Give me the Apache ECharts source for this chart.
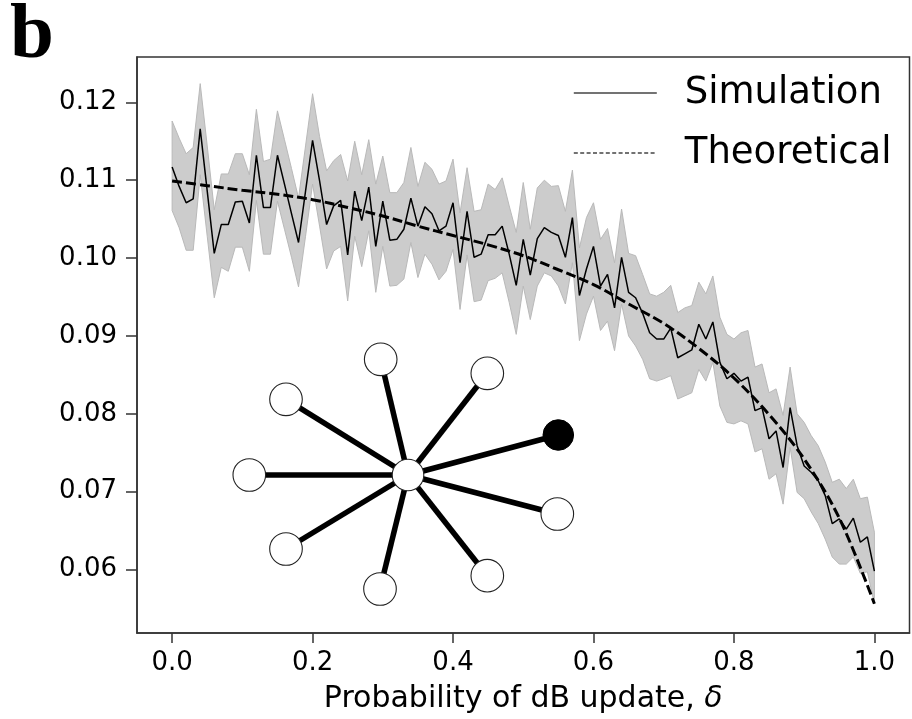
<!DOCTYPE html>
<html>
<head>
<meta charset="utf-8">
<script src="https://cdn.jsdelivr.net/npm/echarts@6/dist/echarts.min.js"></script>
<style>
html,body{margin:0;padding:0;background:#fff;}
#chart{width:912px;height:719px;}
</style>
</head>
<body>
<div id="chart"></div>
<script>
// ---- data ----
// x grid: probability of dB update, delta = 0.00 .. 1.00 step 0.01
const delta = Array.from({length: 101}, (_, i) => +(i / 100).toFixed(2));

const simMean = [
0.1117, 0.1092, 0.1071, 0.1076, 0.1166, 0.1086, 0.1006, 0.1043, 0.1043, 0.1072,
0.1073, 0.1045, 0.1132, 0.1065, 0.1065, 0.1132, 0.1095, 0.1057, 0.1020, 0.1086,
0.1151, 0.1099, 0.1043, 0.1067, 0.1074, 0.1004, 0.1086, 0.1048, 0.1091, 0.1015,
0.1073, 0.1023, 0.1024, 0.1037, 0.1077, 0.1041, 0.1066, 0.1057, 0.1035, 0.1041,
0.1071, 0.0994, 0.1060, 0.1001, 0.1005, 0.1030, 0.1030, 0.1041, 0.1005, 0.0965,
0.1024, 0.0978, 0.1025, 0.1039, 0.1033, 0.1029, 0.1001, 0.1052, 0.0952, 0.0986,
0.1015, 0.0964, 0.0979, 0.0936, 0.1001, 0.0956, 0.0949, 0.0929, 0.0904, 0.0896,
0.0896, 0.0910, 0.0872, 0.0877, 0.0882, 0.0915, 0.0896, 0.0918, 0.0866, 0.0845,
0.0852, 0.0842, 0.0847, 0.0804, 0.0808, 0.0768, 0.0778, 0.0731, 0.0808, 0.0759,
0.0733, 0.0725, 0.0714, 0.0695, 0.0659, 0.0665, 0.0652, 0.0666, 0.0635, 0.0642,
0.0598
];

const simUpper = [
0.1176, 0.1154, 0.1134, 0.1142, 0.1224, 0.1144, 0.1062, 0.1108, 0.1108, 0.1134,
0.1134, 0.1107, 0.1191, 0.1124, 0.1127, 0.1189, 0.1152, 0.1115, 0.1077, 0.1144,
0.1211, 0.1156, 0.1112, 0.1125, 0.1133, 0.1099, 0.1150, 0.1107, 0.1152, 0.1095,
0.1131, 0.1084, 0.1084, 0.1097, 0.1142, 0.1092, 0.1123, 0.1114, 0.1095, 0.1099,
0.1127, 0.1058, 0.1116, 0.1060, 0.1062, 0.1095, 0.1088, 0.1103, 0.1067, 0.1033,
0.1097, 0.1037, 0.1090, 0.1100, 0.1092, 0.1093, 0.1060, 0.1113, 0.1013, 0.1052,
0.1071, 0.1024, 0.1038, 0.0994, 0.1063, 0.1006, 0.1003, 0.0979, 0.0954, 0.0951,
0.0956, 0.0965, 0.0930, 0.0936, 0.0939, 0.0969, 0.0954, 0.0977, 0.0924, 0.0902,
0.0896, 0.0904, 0.0907, 0.0860, 0.0864, 0.0827, 0.0832, 0.0798, 0.0860, 0.0800,
0.0789, 0.0772, 0.0759, 0.0738, 0.0712, 0.0716, 0.0704, 0.0716, 0.0691, 0.0693,
0.0648
];

const simLower = [
0.1061, 0.1039, 0.1010, 0.1010, 0.1107, 0.1028, 0.0949, 0.0988, 0.0983, 0.1014,
0.1014, 0.0983, 0.1074, 0.1005, 0.1005, 0.1073, 0.1037, 0.1001, 0.0963, 0.1028,
0.1095, 0.1041, 0.0986, 0.1009, 0.1015, 0.0945, 0.1028, 0.0989, 0.1035, 0.0956,
0.1015, 0.0964, 0.0965, 0.0973, 0.1020, 0.0975, 0.1005, 0.0992, 0.0972, 0.0983,
0.1011, 0.0934, 0.1004, 0.0944, 0.0946, 0.0971, 0.0974, 0.0981, 0.0943, 0.0902,
0.0964, 0.0921, 0.0964, 0.0981, 0.0977, 0.0964, 0.0941, 0.0994, 0.0894, 0.0928,
0.0951, 0.0907, 0.0919, 0.0881, 0.0941, 0.0900, 0.0887, 0.0870, 0.0845, 0.0842,
0.0845, 0.0849, 0.0819, 0.0823, 0.0827, 0.0857, 0.0842, 0.0866, 0.0810, 0.0789,
0.0787, 0.0791, 0.0787, 0.0751, 0.0755, 0.0716, 0.0723, 0.0684, 0.0757, 0.0699,
0.0691, 0.0674, 0.0659, 0.0639, 0.0616, 0.0607, 0.0607, 0.0616, 0.0595, 0.0597,
0.0556
];

const theoDelta = [0, 0.05, 0.10, 0.15, 0.20, 0.25, 0.30, 0.35, 0.40, 0.45, 0.50,
                   0.55, 0.60, 0.65, 0.70, 0.75, 0.80, 0.85, 0.90, 0.95, 1.00];
const theoValue = [0.1099, 0.1093, 0.1087, 0.1082, 0.1075, 0.1065, 0.1054, 0.1041, 0.1029, 0.1017, 0.1003,
                   0.0985, 0.0966, 0.0941, 0.0916, 0.0884, 0.0846, 0.0799, 0.0742, 0.0666, 0.0556];

const xTicks = [0.0, 0.2, 0.4, 0.6, 0.8, 1.0];
const yTicks = [0.06, 0.07, 0.08, 0.09, 0.10, 0.11, 0.12];

const seriesNames = ['Simulation', 'Theoretical'];
const xTitle = 'Probability of dB update, {i|δ}';
const panelLabel = 'b';

// ---- build ----
const pairs = (xs, ys) => xs.map((x, i) => [x, ys[i]]);
const bandRows = delta.map((x, i) => [x, simLower[i], simUpper[i]]);

function renderBand(params, api) {
  if (params.dataIndex !== 0) return null;
  const n = bandRows.length;
  const pts = [];
  for (let i = 0; i < n; i++) pts.push(api.coord([bandRows[i][0], bandRows[i][2]]));
  for (let i = n - 1; i >= 0; i--) pts.push(api.coord([bandRows[i][0], bandRows[i][1]]));
  return {
    type: 'polygon',
    shape: {points: pts},
    style: {fill: 'rgb(204,204,204)', stroke: 'rgb(185,185,185)', lineWidth: 1}
  };
}

function insetGraphic() {
  // decorative star-network illustration (pixel layout of the inset picture)
  const c = [408, 475];
  const outer = [
    [380.7, 359.3], [487.3, 373.3], [286, 399.3], [249.3, 475],
    [557.3, 514], [286, 549], [380, 589], [487.3, 575.7]
  ];
  const filled = [558.3, 435];
  const els = [];
  outer.concat([filled]).forEach(p => {
    els.push({type: 'line', z: 100, silent: true,
      shape: {x1: c[0], y1: c[1], x2: p[0], y2: p[1]},
      style: {stroke: '#000', lineWidth: 5.5}});
  });
  outer.forEach(p => {
    els.push({type: 'circle', z: 101, silent: true,
      shape: {cx: p[0], cy: p[1], r: 16.3},
      style: {fill: '#fff', stroke: '#222', lineWidth: 1.1}});
  });
  els.push({type: 'circle', z: 101, silent: true,
    shape: {cx: c[0], cy: c[1], r: 15.8},
    style: {fill: '#fff', stroke: '#222', lineWidth: 1.1}});
  els.push({type: 'circle', z: 101, silent: true,
    shape: {cx: filled[0], cy: filled[1], r: 15.3},
    style: {fill: '#000', stroke: '#000', lineWidth: 1}});
  els.push({type: 'text', z: 101, left: 10, top: -3,
    style: {text: panelLabel, font: 'bold 79px "Liberation Serif"', fill: '#000'}});
  return els;
}

const chart = echarts.init(document.getElementById('chart'), null, {renderer: 'canvas'});
const FONT = 'DejaVu Sans';
const option = {
  animation: false,
  backgroundColor: '#fff',
  grid: {
    left: 137, right: 2.5, top: 57, bottom: 85,
    show: true, borderColor: '#333', borderWidth: 1.5, backgroundColor: 'transparent',
    containLabel: false
  },
  legend: {
    orient: 'vertical', left: 568, top: 67,
    itemWidth: 83, itemHeight: 14, itemGap: 18,
    selectedMode: false,
    textStyle: {fontFamily: FONT, fontSize: 37, color: '#000', lineHeight: 40, padding: [2, 0, 0, 23]},
    data: [
      {name: seriesNames[0], itemStyle: {opacity: 0}, lineStyle: {color: '#444', width: 1.6, type: 'solid'}},
      {name: seriesNames[1], itemStyle: {opacity: 0}, lineStyle: {color: '#444', width: 1.4, type: [4, 2.4]}}
    ]
  },
  xAxis: {
    type: 'value', min: -0.05, max: 1.05,
    splitLine: {show: false},
    axisLine: {show: true, onZero: false, lineStyle: {color: '#333', width: 1.5}},
    axisTick: {show: true, length: 10, customValues: xTicks, lineStyle: {color: '#333', width: 1.5}},
    axisLabel: {customValues: xTicks, margin: 17, color: '#000', fontFamily: FONT, fontSize: 26,
      formatter: v => v.toFixed(1)},
    name: xTitle, nameLocation: 'middle', nameGap: 51,
    nameTextStyle: {fontFamily: FONT, fontSize: 30, color: '#000',
      rich: {i: {fontFamily: FONT, fontSize: 30, fontStyle: 'italic', color: '#000'}}}
  },
  yAxis: {
    type: 'value', min: 0.05185, max: 0.12582,
    splitLine: {show: false},
    axisLine: {show: true, onZero: false, lineStyle: {color: '#333', width: 1.5}},
    axisTick: {show: true, length: 11, customValues: yTicks, lineStyle: {color: '#333', width: 1.5}},
    axisLabel: {customValues: yTicks, margin: 20, color: '#000', fontFamily: FONT, fontSize: 26,
      formatter: v => v.toFixed(2)}
  },
  series: [
    {
      name: 'band', type: 'custom', silent: true,
      data: bandRows,
      encode: {x: 0, y: [1, 2]},
      renderItem: renderBand,
      z: 1
    },
    {
      name: seriesNames[0], type: 'line', symbol: 'none', silent: true,
      data: pairs(delta, simMean),
      lineStyle: {color: '#000', width: 1.5}, z: 3
    },
    {
      name: seriesNames[1], type: 'line', symbol: 'none', silent: true, smooth: 0.35,
      data: pairs(theoDelta, theoValue),
      lineStyle: {color: '#000', width: 3, type: [10, 4]}, z: 4
    }
  ],
  graphic: insetGraphic()
};
chart.setOption(option);
</script>
</body>
</html>
